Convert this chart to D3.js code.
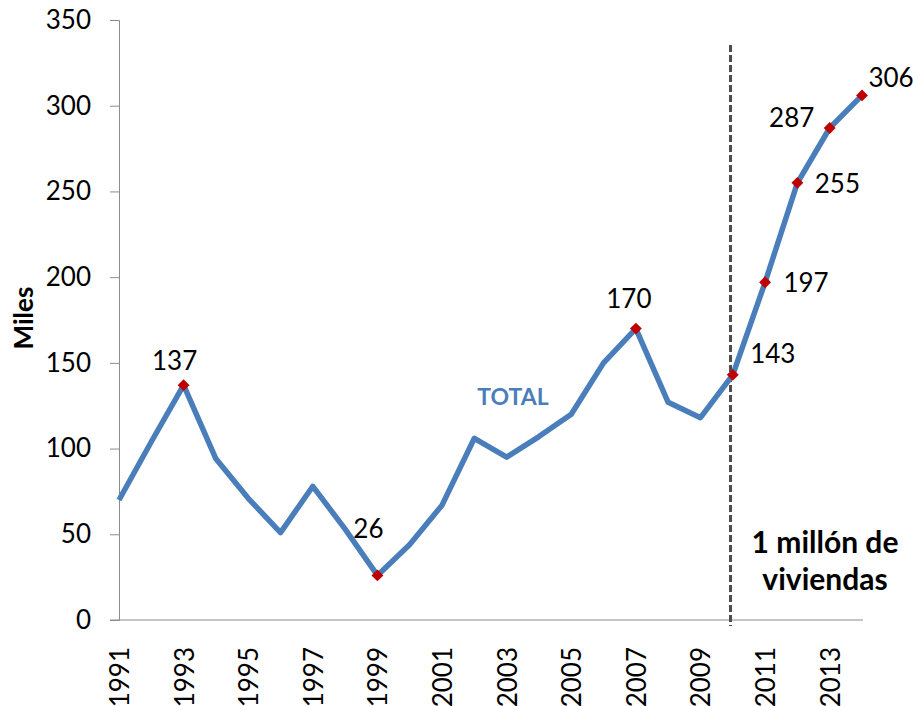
<!DOCTYPE html>
<html>
<head>
<meta charset="utf-8">
<script src="https://cdn.jsdelivr.net/npm/d3@7"></script>
<style>
  body { margin: 0; background: #fff; }
  text { font-family: Lato, "Open Sans", sans-serif; }
</style>
</head>
<body>
<div id="chart"></div>
<script>
// values (miles de viviendas)
const years = d3.range(1991, 2015);
const totals = [70, 104, 137, 94, 71, 51, 78, 53, 26, 44, 67, 106, 95, 107, 120, 150, 170, 127, 118, 143, 197, 255, 287, 306];
const yTicks = [0, 50, 100, 150, 200, 250, 300, 350];
const xTickYears = [1991, 1993, 1995, 1997, 1999, 2001, 2003, 2005, 2007, 2009, 2011, 2013];
// labelled points: year, dx, dy (label offset from the marker)
const labelled = [
    [1993, -9, -15],
    [1999, -9, -37],
    [2007, -7, -21],
    [2010, 40, -12],
    [2011, 41, 10],
    [2012, 40, 10],
    [2013, -38, -1],
    [2014, 29, -8]
];
const dividerYear = 2009.93;

const width = 913;
const height = 706;
const margin = {left: 119, right: 51, top: 20, bottom: 86};

const svg = d3.select("#chart")
    .append("svg")
    .attr("width", width)
    .attr("height", height);

const x = d3.scaleLinear()
    .domain([1991, 2014])
    .range([margin.left, width - margin.right]);

const y = d3.scaleLinear()
    .domain([0, 350])
    .range([height - margin.bottom, margin.top]);

// Y axis
const yAxis = svg.append("g")
    .attr("transform", `translate(${margin.left},0)`)
    .call(d3.axisLeft(y).tickValues(yTicks).tickSize(9).tickPadding(19));
yAxis.selectAll("line, path").attr("stroke", "#8c8c8c");
yAxis.selectAll("text")
    .attr("fill", "#000")
    .style("font-size", "26px");

// X axis baseline
svg.append("line")
    .attr("x1", margin.left - 9)
    .attr("x2", x(2014) + 1)
    .attr("y1", y(0))
    .attr("y2", y(0))
    .attr("stroke", "#8c8c8c");

// year labels, rotated
svg.append("g")
    .selectAll("text")
    .data(xTickYears)
    .join("text")
    .attr("transform", d => `translate(${x(d) + 10},${y(0) + 27}) rotate(-90)`)
    .style("text-anchor", "end")
    .style("font-size", "26px")
    .text(d => d);

// Axis title
svg.append("text")
    .attr("transform", "translate(33,318) rotate(-90)")
    .style("text-anchor", "middle")
    .style("font-size", "26px")
    .style("font-weight", "bold")
    .text("Miles");

// divider
svg.append("line")
    .attr("x1", x(dividerYear))
    .attr("x2", x(dividerYear))
    .attr("y1", 45)
    .attr("y2", y(0) + 6)
    .attr("stroke", "#4d4d4d")
    .attr("stroke-width", 3)
    .attr("stroke-dasharray", "7,3");

// Line
const line = d3.line()
    .x((d, i) => x(years[i]))
    .y(d => y(d));

svg.append("path")
    .datum(totals)
    .attr("d", line)
    .attr("fill", "none")
    .attr("stroke", "#4a7ebb")
    .attr("stroke-width", 5.5)
    .attr("stroke-linejoin", "round");

// markers + value labels
const valueOf = yr => totals[years.indexOf(yr)];

svg.append("g")
    .selectAll("path")
    .data(labelled)
    .join("path")
    .attr("transform", d => `translate(${x(d[0])},${y(valueOf(d[0]))})`)
    .attr("d", d3.symbol(d3.symbolDiamond2, 90))
    .attr("fill", "#c00000");

svg.append("g")
    .selectAll("text")
    .data(labelled)
    .join("text")
    .attr("x", d => x(d[0]) + d[1])
    .attr("y", d => y(valueOf(d[0])) + d[2])
    .style("text-anchor", "middle")
    .style("font-size", "26px")
    .text(d => valueOf(d[0]));

// series name
svg.append("text")
    .attr("x", 513)
    .attr("y", 405)
    .style("text-anchor", "middle")
    .style("font-size", "23px")
    .style("font-weight", "bold")
    .attr("fill", "#4a7ebb")
    .text("TOTAL");

// note
svg.append("text")
    .attr("x", 825)
    .attr("y", 553)
    .style("text-anchor", "middle")
    .style("font-size", "30px")
    .style("font-weight", "bold")
    .text("1 millón de");

svg.append("text")
    .attr("x", 825)
    .attr("y", 590)
    .style("text-anchor", "middle")
    .style("font-size", "30px")
    .style("font-weight", "bold")
    .text("viviendas");
</script>
</body>
</html>
